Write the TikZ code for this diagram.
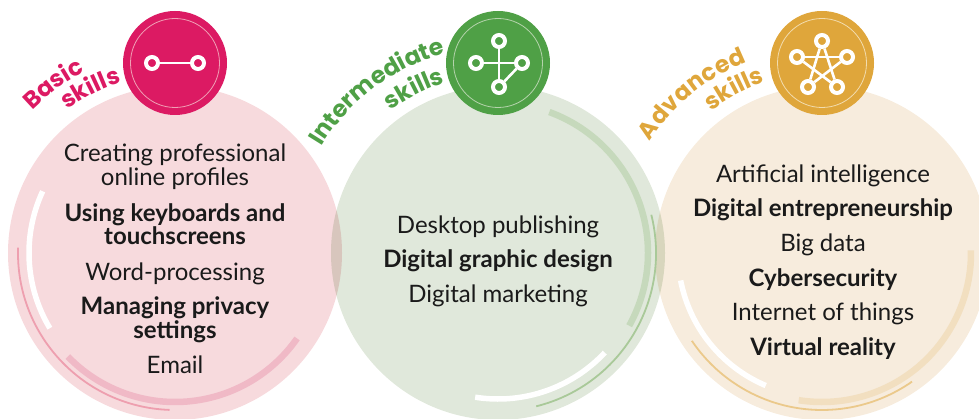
\documentclass[tikz,border=0pt]{standalone}
\usepackage{fontspec}
\setmainfont{Lato}
\newfontfamily\labelfont{Poppins}
\usetikzlibrary{decorations.text}
\definecolor{basicdark}{HTML}{DC1A63}
\definecolor{basiclight}{HTML}{F7DADD}
\definecolor{basicmid}{HTML}{F0B9C6}
\definecolor{basicthin}{HTML}{EE9FAF}
\definecolor{basicring}{HTML}{F0A0B5}
\definecolor{interdark}{HTML}{4FA046}
\definecolor{interlight}{HTML}{E0E8DB}
\definecolor{intermid}{HTML}{C6D9BC}
\definecolor{interthin}{HTML}{A9C999}
\definecolor{interring}{HTML}{B5D3AC}
\definecolor{advdark}{HTML}{DFA63B}
\definecolor{advlight}{HTML}{F7ECDD}
\definecolor{advmid}{HTML}{F2DFC0}
\definecolor{advthin}{HTML}{EBC98B}
\definecolor{advring}{HTML}{F2DCAE}
\definecolor{inktext}{HTML}{1A1A1A}
\newcommand{\arcfont}{\labelfont\bfseries\fontsize{23.5}{23.5}\selectfont}

\begin{document}
\begin{tikzpicture}[
					        x=1pt,
					        y=1pt,
					        disc/.style={circle, inner sep=0pt, minimum size=334pt},
					        badge/.style={circle, inner sep=0pt, minimum size=104pt},
					        ring/.style={circle, inner sep=0pt, minimum size=89pt, line width=0.8pt},
					        dot/.style={circle, inner sep=0pt, minimum size=12pt, draw=white, line width=4pt},
					        link/.style={draw=white, line width=2.6pt},
					        wide arc/.style={line width=6.5pt},
					        thin arc/.style={line width=1.8pt},
					        skill/.style={anchor=base, align=center, text=inktext, font=\fontsize{24}{24}\selectfont},
					        strong/.style={skill, font=\fontsize{24}{24}\selectfont\bfseries},
					        along/.style={decorate, decoration={text along path, text align=fit to path, text={#1}}}
					        ]
					        \useasboundingbox (0,0) rectangle (979,418);

					        \begin{scope}[blend mode=multiply]
					        \node[disc, fill=basiclight] (pink) at (175,165) {};
					        \node[disc, fill=interlight] (green) at (498,165) {};
					        \node[disc, fill=advlight] (gold) at (822,165) {};
					        \end{scope}

					        \draw[white, line width=5.5pt] (pink.center) ++(155:146) arc[start angle=155, end angle=211, radius=146];
					        \draw[thin arc, basicthin] (pink.center) ++(178:157) arc[start angle=178, end angle=268, radius=157];
					        \draw[wide arc, basicmid] (pink.center) ++(224:149) arc[start angle=224, end angle=325, radius=149];

					        \draw[wide arc, intermid] (green.center) ++(70:150) arc[start angle=70, end angle=-29, radius=150];
					        \draw[thin arc, interthin] (green.center) ++(14:158) arc[start angle=14, end angle=-76, radius=158];
					        \draw[white, line width=5.5pt] (green.center) ++(-43:146) arc[start angle=-43, end angle=-99, radius=146];

					        \draw[wide arc, advmid] (gold.center) ++(1:149) arc[start angle=1, end angle=-99, radius=149];
					        \draw[thin arc, advthin] (gold.center) ++(-55:157) arc[start angle=-55, end angle=-146, radius=157];
					        \draw[white, line width=5.5pt] (gold.center) ++(191:144) arc[start angle=191, end angle=247, radius=144];

					        \node[badge, fill=basicdark] (pinkbadge) at (175,355) {};
					        \node[ring, draw=basicring] (pinkring) at (pinkbadge) {};
					        \node[badge, fill=interdark] (greenbadge) at (498,355) {};
					        \node[ring, draw=interring] (greenring) at (greenbadge) {};
					        \node[badge, fill=advdark] (goldbadge) at (822,355) {};
					        \node[ring, draw=advring] (goldring) at (goldbadge) {};

					        \node[dot] (p1) at (152,355) {};
					        \node[dot] (p2) at (198,355) {};
					        \path[link] (p1) edge (p2);

					        \node[dot] (g1) at (499,377) {};
					        \node[dot] (g2) at (476,355) {};
					        \node[dot] (g3) at (522,355) {};
					        \node[dot] (g4) at (499,331) {};
					        \path[link]
					              (g1) edge (g4)
					              (g2) edge (g3)
					              (g3) edge (g4);

					        \node[dot] (a1) at (822,377) {};
					        \node[dot] (a2) at (797,361) {};
					        \node[dot] (a3) at (847,361) {};
					        \node[dot] (a4) at (808,331) {};
					        \node[dot] (a5) at (837,331) {};
					        \path[link]
					              (a1) edge (a4)
					              (a1) edge (a5)
					              (a2) edge (a3)
					              (a2) edge (a5)
					              (a3) edge (a4);

					        \path[along={|\arcfont\color{basicdark}|Basic}] (pink.center) ++(135:202) arc[start angle=135, end angle=117, radius=202];
					        \path[along={|\arcfont\color{basicdark}|skills}] (pink.center) ++(127:179) arc[start angle=127, end angle=108.5, radius=179];
					        \path[along={|\arcfont\color{interdark}|Intermediate}] (green.center) ++(149:206) arc[start angle=149, end angle=105, radius=206];
					        \path[along={|\arcfont\color{interdark}|skills}] (green.center) ++(127:178) arc[start angle=127, end angle=108, radius=178];
					        \path[along={|\arcfont\color{advdark}|Advanced}] (gold.center) ++(147:205) arc[start angle=147, end angle=111.5, radius=205];
					        \path[along={|\arcfont\color{advdark}|skills}] (gold.center) ++(128:180) arc[start angle=128, end angle=109, radius=180];

					        \node[skill] (profiles) at (175,232) {Creating professional\\online profiles};
					        \node[strong] (keyboards) at (175,173) {Using keyboards and\\touchscreens};
					        \node[skill] (word) at (175,138) {Word-processing};
					        \node[strong] (privacy) at (175,80) {Managing privacy\\settings};
					        \node[skill] (email) at (175,45) {Email};

					        \node[skill] (desktop) at (498,185) {Desktop publishing};
					        \node[strong] (graphic) at (498,151) {Digital graphic design};
					        \node[skill] (marketing) at (498,116) {Digital marketing};

					        \node[skill] (ai) at (823,235.5) {Artificial intelligence};
					        \node[strong] (entre) at (823,201) {Digital entrepreneurship};
					        \node[skill] (bigdata) at (823,166.5) {Big data};
					        \node[strong] (cyber) at (823,132) {Cybersecurity};
					        \node[skill] (things) at (823,97.5) {Internet of things};
					        \node[strong] (reality) at (823,63) {Virtual reality};
					    \end{tikzpicture}
\end{document}
